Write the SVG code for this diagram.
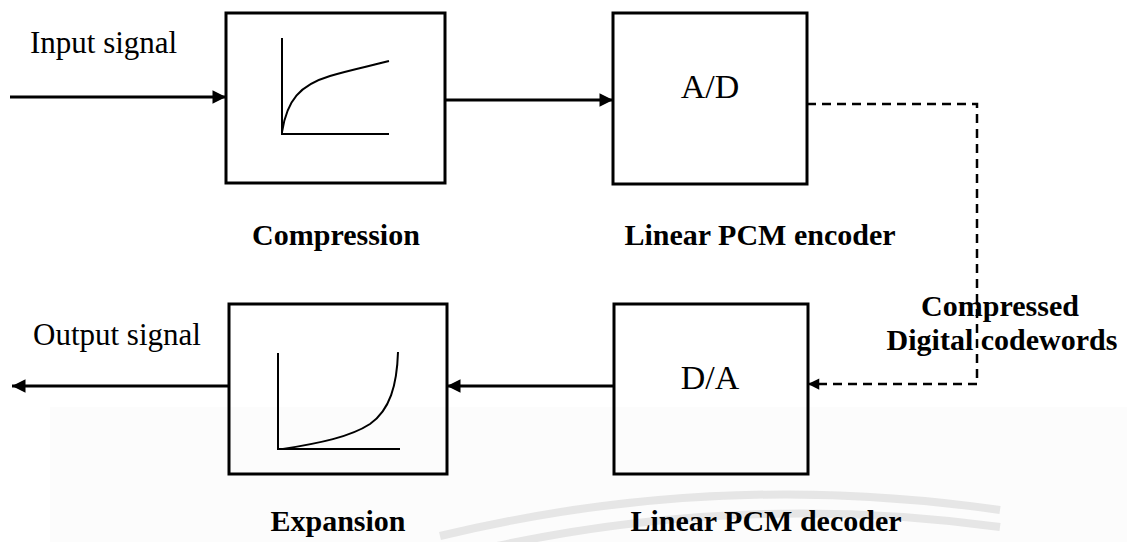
<svg xmlns="http://www.w3.org/2000/svg" width="1127" height="542" viewBox="0 0 1127 542">
<style>
.box{fill:none;stroke:#000;stroke-width:3}
.wire{fill:none;stroke:#000;stroke-width:3}
.dash{fill:none;stroke:#000;stroke-width:2.5;stroke-dasharray:9 6}
.curve{fill:none;stroke:#000;stroke-width:2}
.lbl{font-family:"Liberation Serif","Times New Roman",serif;font-size:31px;fill:#000}
.blbl{font-family:"Liberation Serif","Times New Roman",serif;font-size:30px;font-weight:bold;fill:#000}
.inner{font-family:"Liberation Serif","Times New Roman",serif;font-size:34px;fill:#000}
</style>
<defs>
<marker id="ah" viewBox="0 0 10 10" refX="10" refY="5" markerWidth="5.5" markerHeight="4.5" markerUnits="strokeWidth" orient="auto">
<path d="M0,0 L10,5 L0,10 z" fill="#000"/>
</marker>
</defs>
<rect width="1127" height="542" fill="#fff"/>
<rect x="50" y="407" width="1077" height="135" fill="#fcfcfc"/>
<g fill="none" stroke="#e6e6e6" stroke-width="8">
<path d="M440,536 A1480,1480 0 0 1 1000,510"/>
<path d="M470,552 A1465,1465 0 0 1 1000,527"/>
</g>

<g id="connectors">
<line class="wire" x1="10" y1="97" x2="226" y2="97" marker-end="url(#ah)"/>
<line class="wire" x1="445" y1="100" x2="613" y2="100" marker-end="url(#ah)"/>
<polyline class="dash" points="807,104 977,104 977,384 808,384" marker-end="url(#ah)"/>
<line class="wire" x1="614" y1="386" x2="447" y2="386" marker-end="url(#ah)"/>
<line class="wire" x1="229" y1="386" x2="12" y2="386" marker-end="url(#ah)"/>
</g>

<g id="input-label">
<text class="lbl" x="30" y="53">Input signal</text>
</g>
<g id="output-label">
<text class="lbl" x="33" y="345">Output signal</text>
</g>

<g id="compression">
<rect class="box" x="226" y="13" width="219" height="170"/>
<polyline class="curve" points="282,38 282,134 389,134"/>
<path class="curve" d="M282,132 C287,100 300,85 330,76 C350,70 370,66 389,61"/>
<text class="blbl" x="336" y="245" text-anchor="middle">Compression</text>
</g>

<g id="ad">
<rect class="box" x="613" y="13" width="194" height="171"/>
<text class="inner" x="710" y="98" text-anchor="middle">A/D</text>
<text class="blbl" x="760" y="245" text-anchor="middle">Linear PCM encoder</text>
</g>

<g id="da">
<rect class="box" x="614" y="304" width="194" height="170"/>
<text class="inner" x="710" y="389" text-anchor="middle">D/A</text>
<text class="blbl" x="766" y="531" text-anchor="middle">Linear PCM decoder</text>
</g>

<g id="expansion">
<rect class="box" x="229" y="304" width="218" height="170"/>
<polyline class="curve" points="278,353 278,449 400,449"/>
<path class="curve" d="M283,449 C320,443 350,437 370,424 C390,410 397,385 398,352"/>
<text class="blbl" x="338" y="531" text-anchor="middle">Expansion</text>
</g>

<g id="codeword-label">
<text class="blbl" x="1000" y="316" text-anchor="middle">Compressed</text>
<text class="blbl" x="1002" y="350" text-anchor="middle">Digital codewords</text>
</g>
</svg>
